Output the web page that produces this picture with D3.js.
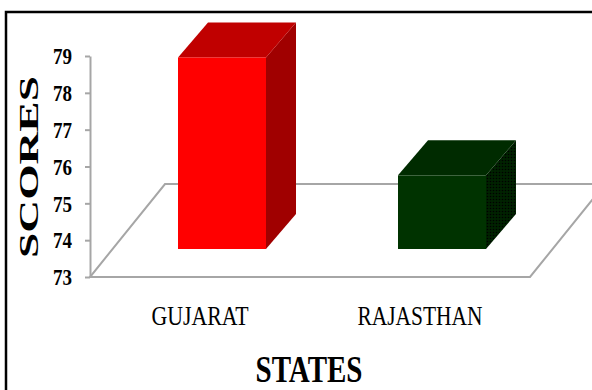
<!DOCTYPE html>
<html>
<head>
<meta charset="utf-8">
<script src="https://cdn.jsdelivr.net/npm/d3@7"></script>
<style>
  body { margin: 0; background: #fff; }
  svg { display: block; }
  .axis .domain { stroke: #a6a6a6; stroke-width: 2; }
  .axis .tick line { stroke: #a6a6a6; stroke-width: 2; }
  .axis .tick text { font-family: "Liberation Serif", "Times New Roman", serif; font-weight: bold; font-size: 24px; fill: #000; }
</style>
</head>
<body>
<div id="chart"></div>
<script>
// data
const states = ["GUJARAT", "RAJASTHAN"];
const scores = [78.2, 75.0];
const yTicks = [73, 74, 75, 76, 77, 78, 79];
const frontColors = ["#ff0000", "#003300"];
const topColors = ["#c00000", "#002b00"];
const sideColors = ["#a00000", "#001f00"];

const W = 592, H = 390;

const svg = d3.select("#chart").append("svg")
    .attr("width", W)
    .attr("height", H);

// dotted texture for the dark green faces
const defs = svg.append("defs");
const pat = defs.append("pattern")
    .attr("id", "dots")
    .attr("width", 3).attr("height", 3)
    .attr("patternUnits", "userSpaceOnUse");
pat.append("rect").attr("width", 3).attr("height", 3).attr("fill", "#002200");
pat.append("circle").attr("cx", 1.5).attr("cy", 1.5).attr("r", 0.8).attr("fill", "#000");

// border
svg.append("rect")
    .attr("x", 6).attr("y", 12)
    .attr("width", 620).attr("height", 420)
    .attr("fill", "none")
    .attr("stroke", "#000")
    .attr("stroke-width", 2.5);

// scales (front plane)
const x = d3.scaleBand()
    .domain(states)
    .range([90, 530])
    .paddingInner(0)
    .paddingOuter(0);

const y = d3.scaleLinear()
    .domain([73, 79])
    .range([277, 56]);

// 3d offsets
const floorDepth = {dx: 75, dy: -93};
const barShift = {dx: 22, dy: -28};
const barDepth = {dx: 30, dy: -35};
const barW = x.bandwidth() * 0.4;

// floor
const x0 = x.range()[0], x1 = x.range()[1], yb = y(73);
svg.append("path")
    .attr("d", "M" + x0 + "," + yb +
        "L" + x1 + "," + yb +
        "L" + (x1 + floorDepth.dx) + "," + (yb + floorDepth.dy) +
        "L" + (x0 + floorDepth.dx) + "," + (yb + floorDepth.dy) + "Z")
    .attr("fill", "none")
    .attr("stroke", "#a6a6a6")
    .attr("stroke-width", 2);

// axis
svg.append("g")
    .attr("class", "axis")
    .attr("transform", "translate(" + x0 + ",0)")
    .call(d3.axisLeft(y).tickValues(yTicks).tickFormat(d3.format("d"))
        .tickSize(5).tickPadding(13).tickSizeOuter(0))
    .selectAll(".tick text")
    .attr("textLength", 19)
    .attr("lengthAdjust", "spacingAndGlyphs");

// bars
const bars = svg.selectAll(".bar")
    .data(states.map((s, i) => ({state: s, value: scores[i], i: i})))
    .enter().append("g")
    .attr("class", "bar");

function pts(p) { return p.map(d => d.join(",")).join(" "); }

bars.each(function (d) {
    const g = d3.select(this);
    const l = x(d.state) + x.bandwidth() / 2 - barW / 2 + barShift.dx;
    const r = l + barW;
    const t = y(d.value) + barShift.dy;
    const b = y(73) + barShift.dy;
    const dx = barDepth.dx, dy = barDepth.dy;
    const dotted = d.i === 1;

    g.append("polygon")
        .attr("points", pts([[r, t], [r + dx, t + dy], [r + dx, b + dy], [r, b]]))
        .attr("fill", dotted ? "url(#dots)" : sideColors[d.i]);
    g.append("polygon")
        .attr("points", pts([[l, t], [l + dx, t + dy], [r + dx, t + dy], [r, t]]))
        .attr("fill", topColors[d.i]);
    g.append("rect")
        .attr("x", l).attr("y", t)
        .attr("width", barW).attr("height", b - t)
        .attr("fill", frontColors[d.i]);
});

// category labels
const labelLen = {"GUJARAT": 97, "RAJASTHAN": 125};
svg.selectAll(".cat")
    .data(states)
    .enter().append("text")
    .attr("class", "cat")
    .attr("x", d => x(d) + x.bandwidth() / 2)
    .attr("y", 325)
    .attr("text-anchor", "middle")
    .attr("textLength", d => labelLen[d])
    .attr("lengthAdjust", "spacingAndGlyphs")
    .style("font-family", "'Liberation Serif', 'Times New Roman', serif")
    .style("font-size", "27px")
    .text(d => d);

// axis titles
svg.append("text")
    .attr("x", 309)
    .attr("y", 382)
    .attr("text-anchor", "middle")
    .attr("textLength", 107)
    .attr("lengthAdjust", "spacingAndGlyphs")
    .style("font-family", "'Liberation Serif', 'Times New Roman', serif")
    .style("font-weight", "bold")
    .style("font-size", "38px")
    .text("STATES");

svg.append("text")
    .attr("transform", "translate(38,167) rotate(-90)")
    .attr("text-anchor", "middle")
    .attr("textLength", 182)
    .attr("lengthAdjust", "spacingAndGlyphs")
    .style("font-family", "'Liberation Serif', 'Times New Roman', serif")
    .style("font-weight", "bold")
    .style("font-size", "27px")
    .text("SCORES");
</script>
</body>
</html>
